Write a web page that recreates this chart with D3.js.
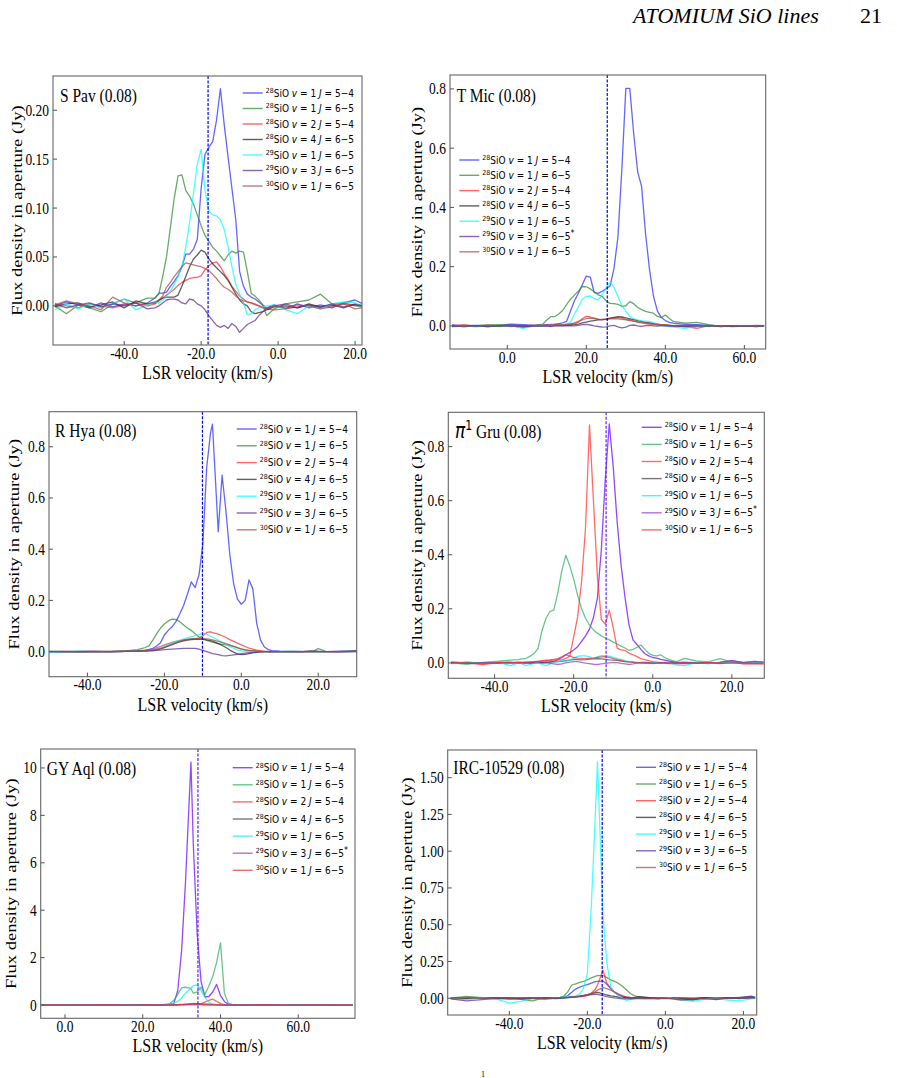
<!DOCTYPE html>
<html>
<head>
<meta charset="utf-8">
<script src="https://cdn.jsdelivr.net/npm/d3@7"></script>
<style>
body { margin: 0; background: #fff; }
</style>
</head>
<body>
<div class="figureContainer"></div>
<script>
// ---- data ----
var stars     = ["S Pav", "T Mic", "R Hya", "Gru", "GY Aql", "IRC-10529"];
var apertures = ["0.08", "0.08", "0.08", "0.08", "0.08", "0.08"];
var vLsr      = [-18.2, 25.3, -10.1, -11.8, 34.2, -16.2];

var isotopes  = ["28", "28", "28", "28", "29", "29", "30"];
var vibLevels = ["1", "1", "2", "4", "1", "3", "1"];
var rotTrans  = ["5\u22124", "6\u22125", "5\u22124", "6\u22125", "6\u22125", "6\u22125", "6\u22125"];
var starred   = [false, true, false, true, true, false]; // panels with "*" on 29SiO v=3

var xTicks = [[-40, -20, 0, 20], [0, 20, 40, 60], [-40, -20, 0, 20], [-40, -20, 0, 20], [0, 20, 40, 60], [-40, -20, 0, 20]];
var yTicks = [[0, 0.05, 0.10, 0.15, 0.20], [0, 0.2, 0.4, 0.6, 0.8], [0, 0.2, 0.4, 0.6, 0.8], [0, 0.2, 0.4, 0.6, 0.8], [0, 2, 4, 6, 8, 10], [0, 0.25, 0.5, 0.75, 1.0, 1.25, 1.5]];
var yFormats = [".2f", ".1f", ".1f", ".1f", "d", ".2f"];

// S Pav
var sPavVel = [-58,-55,-52,-49,-46,-43,-40,-37,-34, -32,-31,-30,-29,-28,-27,-26,-25,-24,-23,-22,-21,-20,-19,-18,-17,-16,-15,-14,-13,-12,-11,-10,-9,-8,-7,-6,-5,-4,-3, -1,2,5,8,11,14,17,20,22];
var sPav28v1J54 = [0.000,0.004,0.001,-0.002,0.003,-0.001,0.002,0.000,0.003, 0.008,0.013,0.013,0.014,0.020,0.025,0.031,0.040,0.053,0.053,0.058,0.068,0.120,0.155,0.162,0.168,0.190,0.222,0.185,0.152,0.120,0.088,0.035,0.020,0.012,0.009,0.007,0.004,0.001,-0.002, 0.001,-0.003,0.002,-0.002,0.001,-0.002,0.003,0.006,0.002];
var sPav28v1J65 = [0.000,-0.008,0.001,-0.002,-0.006,0.002,0.007,0.003,0.008, 0.008,0.012,0.030,0.050,0.080,0.110,0.133,0.134,0.118,0.112,0.104,0.093,0.082,0.072,0.066,0.060,0.056,0.051,0.046,0.052,0.056,0.054,0.056,0.055,0.035,0.013,0.010,0.006,0.001,-0.010, -0.003,0.002,0.004,0.006,0.012,0.002,0.003,0.000,-0.001];
var sPav28v2J54 = [0.002,0.000,-0.002,0.002,0.000,-0.002,0.001,0.003,0.000, 0.002,0.005,0.008,0.011,0.014,0.017,0.021,0.024,0.026,0.028,0.029,0.029,0.031,0.037,0.041,0.044,0.045,0.040,0.033,0.027,0.020,0.015,0.010,0.007,0.004,0.003,0.002,0.000,-0.001,-0.003, -0.004,-0.003,-0.001,0.001,-0.002,0.000,0.002,0.001,0.000];
var sPav28v4J65 = [-0.001,0.002,0.003,-0.001,0.001,0.004,-0.002,0.005,0.002, 0.003,0.006,0.008,0.009,0.009,0.009,0.011,0.020,0.030,0.040,0.048,0.052,0.057,0.055,0.048,0.043,0.039,0.035,0.031,0.026,0.019,0.012,0.006,0.002,0.000,-0.006,-0.008,-0.007,-0.006,-0.004, -0.001,0.000,-0.002,0.002,-0.001,0.001,-0.002,0.002,0.000];
var sPav29v1J65 = [-0.004,0.002,-0.003,0.002,-0.002,0.002,0.007,-0.004,0.001, 0.004,0.003,0.006,0.010,0.015,0.022,0.030,0.040,0.060,0.085,0.115,0.145,0.160,0.118,0.097,0.093,0.092,0.088,0.078,0.060,0.040,0.022,0.012,0.003,-0.009,-0.008,-0.004,-0.002,-0.001,0.000, 0.001,-0.004,-0.008,0.000,-0.003,0.002,0.004,0.003,-0.001];
var sPav29v3J65 = [0.002,-0.002,0.001,0.003,-0.001,0.002,0.000,0.003,-0.003, -0.002,0.000,0.003,0.006,0.007,0.007,0.006,0.003,0.002,0.007,0.006,0.002,0.000,-0.004,-0.010,-0.015,-0.020,-0.022,-0.020,-0.023,-0.018,-0.021,-0.027,-0.023,-0.019,-0.017,-0.015,-0.010,-0.006,-0.003, 0.000,0.002,-0.002,0.001,-0.001,0.002,-0.001,0.001,0.000];
var sPav30v1J65 = [0.001,0.005,0.002,0.000,-0.004,0.009,0.003,0.000,0.002, 0.004,0.006,0.010,0.019,0.024,0.030,0.035,0.040,0.044,0.043,0.042,0.041,0.040,0.038,0.036,0.032,0.028,0.023,0.019,0.017,0.014,0.010,0.007,0.005,0.004,0.003,0.001,0.000,-0.002,-0.003, 0.000,-0.002,0.001,0.000,-0.003,-0.001,0.002,-0.003,-0.002];

// T Mic
var tMicVel = [-14,-11,-8,-5,-2,1,4,7, 9,10,11,12,13,14,15,16,17,18,19,20,21,22,23,24,25,26,27,28,29,30,31,32,33,34,35,36,37,38,39,40,41,42, 45,48,51,54,57,60,63,65];
var tMic28v1J54 = [0.003,0.000,0.002,-0.001,0.001,0.006,0.004,0.002, 0.003,0.004,0.005,0.006,0.008,0.010,0.015,0.050,0.085,0.110,0.140,0.168,0.165,0.112,0.110,0.117,0.125,0.135,0.193,0.300,0.530,0.802,0.802,0.648,0.520,0.470,0.310,0.190,0.100,0.050,0.028,0.018,0.012,0.009, 0.005,0.004,0.002,0.000,0.001,-0.001,0.002,0.001];
var tMic28v1J65 = [0.002,-0.003,0.001,0.003,0.004,0.000,-0.006,0.002, 0.006,0.020,0.031,0.031,0.040,0.052,0.072,0.090,0.104,0.118,0.133,0.132,0.125,0.115,0.105,0.100,0.085,0.076,0.075,0.073,0.066,0.068,0.082,0.075,0.062,0.055,0.049,0.046,0.043,0.032,0.028,0.037,0.025,0.015, 0.009,0.012,0.004,-0.002,0.001,0.000,-0.002,0.001];
var tMic28v2J54 = [0.001,0.003,-0.001,0.002,0.000,-0.002,0.001,0.002, 0.001,0.003,0.002,0.004,0.003,0.004,0.005,0.006,0.008,0.012,0.025,0.032,0.030,0.026,0.022,0.020,0.022,0.025,0.027,0.028,0.026,0.022,0.020,0.016,0.013,0.010,0.008,0.006,0.004,0.003,0.002,0.001,0.002,0.000, -0.002,-0.008,0.001,-0.002,0.001,0.000,-0.002,0.000];
var tMic28v4J65 = [0.000,0.002,0.001,-0.002,0.001,0.002,0.000,0.001, 0.000,0.001,0.000,0.002,0.001,0.002,0.002,0.003,0.004,0.006,0.010,0.013,0.016,0.018,0.020,0.021,0.023,0.026,0.029,0.031,0.030,0.027,0.024,0.021,0.018,0.015,0.012,0.010,0.008,0.006,0.004,0.003,0.002,0.001, 0.000,0.001,-0.001,0.000,0.001,-0.001,0.000,0.001];
var tMic29v1J65 = [-0.002,0.001,-0.003,0.000,-0.002,0.000,-0.008,0.000, 0.002,0.000,0.003,0.001,0.002,0.004,0.006,0.012,0.040,0.065,0.090,0.100,0.101,0.092,0.088,0.105,0.128,0.148,0.130,0.100,0.068,0.050,0.032,0.025,0.020,0.017,0.016,0.015,0.011,0.006,0.003,0.000,-0.002,-0.004, -0.008,0.000,-0.002,0.001,-0.001,0.000,0.001,-0.001];
var tMic29v3J65 = [-0.002,-0.001,0.000,-0.002,-0.001,0.000,-0.002,-0.001, -0.001,0.000,-0.002,0.000,0.001,-0.001,0.000,0.001,0.000,0.002,0.004,0.005,0.003,0.000,-0.002,-0.004,-0.003,0.000,0.002,-0.003,-0.007,-0.004,0.002,0.003,0.000,-0.002,0.001,0.002,0.000,-0.001,0.001,0.000,-0.001,0.000, -0.002,0.000,-0.001,0.000,-0.002,-0.001,0.000,-0.001];
var tMic30v1J65 = [0.002,-0.001,0.001,0.002,-0.001,0.001,0.000,0.002, 0.002,0.001,0.003,0.002,0.004,0.003,0.005,0.007,0.010,0.015,0.020,0.025,0.026,0.025,0.023,0.022,0.023,0.024,0.025,0.024,0.022,0.020,0.018,0.016,0.014,0.012,0.010,0.009,0.007,0.005,0.004,0.003,0.002,0.001, 0.000,0.002,0.000,-0.001,0.001,0.000,-0.001,0.000];

// R Hya
var rHyaVel = [-50,-46,-42,-38,-34,-30,-27, -25,-24,-23,-22,-21,-20,-19,-18,-17,-16,-15,-14,-13,-12,-11,-10,-9,-8,-7.5,-6,-5,-4,-3,-2,-1,0,1,2,3,4,5,6,7,8, 10,13,16,19,20,22,25,28,30];
var rHya28v1J54 = [0.000,0.001,0.000,0.001,-0.001,0.001,0.003, 0.006,0.009,0.013,0.022,0.035,0.065,0.083,0.097,0.117,0.147,0.180,0.225,0.272,0.250,0.300,0.420,0.720,0.855,0.888,0.468,0.689,0.550,0.380,0.265,0.205,0.185,0.200,0.280,0.245,0.110,0.045,0.018,0.008,0.004, 0.002,0.001,0.000,0.002,0.001,0.000,0.001,0.002,0.003];
var rHya28v1J65 = [0.001,0.000,0.001,0.000,0.001,0.003,0.008, 0.016,0.022,0.045,0.070,0.092,0.108,0.120,0.127,0.126,0.117,0.104,0.092,0.082,0.070,0.057,0.050,0.044,0.039,0.037,0.031,0.028,0.026,0.023,0.020,0.016,0.010,0.006,0.004,0.004,0.003,0.001,0.000,0.000,-0.001, 0.000,0.001,0.000,0.004,0.012,0.001,0.000,0.001,0.001];
var rHya28v2J54 = [0.000,0.001,-0.001,0.000,0.001,0.002,0.003, 0.004,0.006,0.010,0.015,0.020,0.026,0.031,0.036,0.040,0.043,0.046,0.048,0.050,0.051,0.053,0.062,0.075,0.077,0.074,0.068,0.062,0.055,0.047,0.040,0.033,0.026,0.020,0.014,0.010,0.006,0.004,0.002,0.001,0.000, 0.000,-0.001,0.000,0.001,0.000,0.000,-0.001,0.000,0.001];
var rHya28v4J65 = [0.000,0.000,0.001,0.000,0.000,0.001,0.001, 0.002,0.003,0.004,0.007,0.011,0.016,0.021,0.027,0.033,0.038,0.042,0.045,0.047,0.048,0.048,0.048,0.046,0.043,0.041,0.031,0.024,0.016,0.006,-0.002,-0.009,-0.012,-0.011,-0.008,-0.005,-0.003,-0.001,0.000,0.000,0.000, 0.000,0.000,0.000,0.001,0.000,0.000,0.000,0.001,0.002];
var rHya29v1J65 = [-0.004,0.000,0.001,0.000,0.000,0.001,0.002, 0.003,0.004,0.007,0.011,0.017,0.022,0.027,0.034,0.040,0.045,0.050,0.055,0.058,0.062,0.066,0.071,0.068,0.060,0.056,0.045,0.036,0.028,0.020,0.013,0.007,0.003,0.001,0.000,-0.001,0.000,0.000,0.001,0.000,0.000, 0.000,0.001,0.000,0.000,0.001,0.000,0.000,0.001,0.000];
var rHya29v3J65 = [0.000,0.000,0.000,0.001,0.000,0.001,0.002, 0.003,0.004,0.004,0.005,0.006,0.008,0.009,0.010,0.011,0.012,0.013,0.013,0.013,0.013,0.010,0.005,0.000,-0.005,-0.008,-0.012,-0.016,-0.017,-0.015,-0.013,-0.011,-0.008,-0.006,-0.004,-0.003,-0.002,-0.001,0.000,0.000,0.000, 0.000,0.000,0.000,0.000,0.001,0.000,0.000,0.001,0.000];
var rHya30v1J65 = [0.001,0.000,0.000,0.001,0.000,0.001,0.002, 0.004,0.005,0.007,0.010,0.013,0.018,0.023,0.029,0.035,0.041,0.045,0.048,0.050,0.051,0.052,0.052,0.050,0.048,0.046,0.040,0.036,0.031,0.026,0.020,0.015,0.011,0.008,0.005,0.003,0.001,0.000,0.000,-0.001,0.000, 0.000,0.000,0.001,0.000,0.000,0.000,0.001,0.000,0.001];

// pi1 Gru
var piGruVel = [-51,-47,-43,-39,-36,-34, -33,-32,-31,-30,-29,-28,-27,-26,-25,-24,-23,-22,-21,-20,-19,-18,-17,-16,-15,-14,-13,-12,-11,-10,-9,-8,-7,-6,-5,-4,-3,-2,-1,0,1,2,3,4,5,6, 8,11,14,17,20,23,26,28];
var piGru28v1J54 = [0.000,0.002,-0.001,0.001,0.000,0.002, 0.001,0.000,0.002,0.001,0.003,0.002,0.003,0.004,0.006,0.012, 0.020,0.030,0.038,0.048,0.060,0.080,0.100,0.125,0.168,0.240, 0.420,0.680,0.884,0.726,0.520,0.360,0.240,0.140,0.085,0.068, 0.050,0.034,0.026,0.020,0.018,0.013,0.010,0.007,0.005,0.003, 0.002,0.001,0.000,0.002,0.008,0.001,0.004,0.002];
var piGru28v1J65 = [0.000,-0.005,0.002,0.006,0.010,0.012, 0.015,0.017,0.025,0.035,0.054,0.120,0.165,0.190,0.196,0.260, 0.340,0.398,0.360,0.310,0.250,0.200,0.165,0.140,0.122,0.110, 0.100,0.092,0.085,0.077,0.070,0.062,0.055,0.046,0.050,0.058, 0.066,0.050,0.035,0.028,0.026,0.030,0.020,0.013,0.008,0.005, 0.017,0.007,0.004,0.016,0.003,0.002,0.005,0.003];
var piGru28v2J54 = [0.002,0.000,-0.006,0.001,0.003,0.000, 0.002,0.001,0.003,0.004,0.005,0.006,0.008,0.009,0.010,0.011, 0.012,0.016,0.025,0.095,0.170,0.300,0.500,0.880,0.600,0.320, 0.160,0.144,0.195,0.130,0.054,0.048,0.046,0.036,0.030,0.023, 0.016,0.012,0.008,0.005,0.003,0.001,0.000,-0.003,-0.002,-0.004, -0.003,-0.002,0.000,-0.003,0.002,-0.004,-0.003,-0.004];
var piGru28v4J65 = [0.000,0.001,0.000,-0.001,0.001,0.000, 0.001,0.000,-0.001,0.001,0.002,0.001,0.002,0.003,0.004,0.005, 0.006,0.008,0.010,0.012,0.012,0.011,0.012,0.014,0.015,0.016, 0.015,0.013,0.011,0.010,0.009,0.007,0.005,0.004,0.002,0.001, 0.000,-0.001,0.000,0.001,0.000,-0.001,0.001,0.000,0.001,0.000, 0.001,0.000,0.001,0.000,0.002,0.000,0.001,0.000];
var piGru29v1J65 = [-0.004,0.004,-0.002,0.002,-0.010,0.000, -0.004,-0.010,-0.006,-0.002,0.002,-0.006,-0.010,-0.004,0.002,0.005, 0.008,0.006,0.011,0.018,0.024,0.026,0.026,0.022,0.017,0.022, 0.027,0.026,0.025,0.020,0.016,0.012,0.008,0.005,0.004,0.000, -0.002,0.001,-0.003,0.000,0.002,-0.002,0.003,0.000,-0.004,-0.008, -0.010,0.002,-0.004,0.003,0.001,-0.002,0.002,0.000];
var piGru29v3J65 = [0.000,-0.002,0.001,0.000,0.002,-0.001, 0.000,0.001,-0.002,0.000,0.001,-0.001,0.000,-0.002,-0.004,-0.006, -0.004,0.000,0.003,0.005,0.005,0.002,-0.001,-0.003,-0.005,-0.006, -0.004,-0.002,0.000,0.002,0.001,-0.002,-0.004,-0.006,-0.004,-0.001, 0.002,0.003,0.001,-0.002,-0.001,0.002,0.000,-0.002,0.001,0.000, 0.002,-0.001,0.000,0.002,0.008,0.001,0.006,0.002];
var piGru30v1J65 = [0.004,0.000,-0.004,0.002,0.000,0.003, 0.002,0.004,0.003,0.005,0.006,0.008,0.010,0.011,0.013,0.016, 0.022,0.030,0.026,0.020,0.018,0.017,0.016,0.017,0.018,0.020, 0.022,0.023,0.020,0.016,0.012,0.009,0.006,0.004,0.003,0.002, 0.000,-0.002,-0.001,-0.003,0.000,-0.002,0.001,-0.001,0.000,-0.002, 0.000,-0.002,0.001,-0.001,0.000,-0.003,-0.002,-0.004];

// GY Aql
var gyAqlVel = [-6,-2,2,6,10,14,18,21,24, 25,26,27,28,29,30,31,32.4,33,34,35,36,37,38,39,40,41,42,43, 45,48,52,56,60,64,68,72,74];
var gyAql28v1J54 = [0.00,0.01,0.00,0.01,0.00,0.01,0.00,0.02,0.01, 0.02,0.03,0.04,0.07,0.60,2.30,5.20,10.25,6.80,3.00,0.99,0.35,0.36,0.55,0.87,0.40,0.15,0.03,0.02, 0.01,0.00,0.01,0.00,0.01,0.00,0.01,0.00,0.01];
var gyAql28v1J65 = [0.00,0.00,0.01,0.00,0.00,0.01,0.00,0.00,0.01, 0.01,0.02,0.06,0.20,0.45,0.72,0.75,0.70,0.50,0.55,0.75,0.45,0.80,1.20,1.80,2.62,0.50,0.08,0.02, 0.01,0.00,0.01,0.00,0.00,0.01,0.00,0.00,0.01];
var gyAql28v2J54 = [0.00,0.01,0.00,0.00,0.01,0.00,0.00,0.01,0.00, 0.00,0.01,0.01,0.01,0.01,0.02,0.02,0.05,0.07,0.06,0.06,0.12,0.20,0.25,0.16,0.06,0.02,0.01,0.00, 0.00,0.01,0.00,0.00,0.01,0.00,0.00,0.00,0.01];
var gyAql28v4J65 = [0.00,0.00,0.01,0.00,0.00,0.00,0.01,0.00,0.00, 0.00,0.01,0.01,0.01,0.02,0.02,0.03,0.04,0.04,0.05,0.04,0.04,0.03,0.03,0.02,0.01,0.01,0.00,0.00, 0.00,0.00,0.01,0.00,0.00,0.00,0.01,0.00,0.00];
var gyAql29v1J65 = [0.00,0.00,0.00,0.01,0.00,0.00,0.01,0.00,0.01, 0.01,0.02,0.04,0.08,0.15,0.30,0.50,0.72,0.82,0.85,0.62,0.32,0.12,0.04,0.02,0.01,0.00,0.00,0.00, 0.00,0.01,0.00,0.00,0.01,0.00,0.00,0.01,0.00];
var gyAql29v3J65 = [0.00,0.00,0.00,0.01,0.00,0.00,0.00,0.01,0.00, 0.00,0.00,0.01,0.00,0.01,0.01,0.01,0.02,0.01,0.01,0.01,0.00,0.01,0.00,0.00,0.01,0.00,0.00,0.00, 0.00,0.01,0.00,0.00,0.00,0.01,0.00,0.00,0.00];
var gyAql30v1J65 = [0.01,0.00,0.00,0.00,0.01,0.00,0.00,0.00,0.01, 0.00,0.01,0.01,0.01,0.02,0.03,0.04,0.05,0.05,0.04,0.04,0.03,0.03,0.02,0.01,0.01,0.00,0.00,0.00, 0.00,0.00,0.01,0.00,0.00,0.00,0.00,0.01,0.00];

// IRC-10529
var ircVel = [-55,-51,-47,-43,-40,-37,-34,-31,-28, -27,-26,-25,-24,-23,-22,-21,-20,-19,-18,-17.4,-16,-15,-14,-13,-12,-11,-10,-9,-8,-7, -5,-2,1,4,7,10,13,16,19,22,23];
var irc28v1J54 = [-0.002,0.002,0.000,0.002,-0.003,0.002,0.000,-0.002,0.003, 0.004,0.008,0.018,0.040,0.062,0.075,0.085,0.092,0.103,0.113,0.115,0.118,0.095,0.065,0.040,0.025,0.012,0.006,0.003,0.001,0.000, 0.002,-0.002,0.003,0.000,-0.003,0.002,0.000,0.003,-0.002,0.004,0.002];
var irc28v1J65 = [0.000,0.012,0.004,-0.003,0.000,-0.008,-0.018,0.004,0.000, 0.006,0.015,0.045,0.090,0.098,0.108,0.115,0.125,0.138,0.148,0.154,0.155,0.140,0.125,0.115,0.100,0.082,0.058,0.032,0.018,0.010, 0.005,-0.002,0.003,-0.005,-0.015,0.004,-0.006,0.002,0.006,0.010,0.004];
var irc28v2J54 = [0.002,0.000,0.003,0.001,0.004,0.000,0.003,0.001,0.002, 0.003,0.004,0.005,0.006,0.008,0.010,0.013,0.020,0.035,0.060,0.090,0.190,0.100,0.070,0.040,0.022,0.012,0.006,0.004,0.003,0.002, 0.001,0.000,0.002,0.001,0.000,0.003,0.001,0.004,0.002,0.006,0.003];
var irc28v4J65 = [0.000,-0.003,0.002,0.000,0.001,-0.002,0.000,0.002,-0.003, 0.000,0.003,0.006,0.010,0.012,0.015,0.019,0.024,0.030,0.038,0.040,0.030,0.022,0.016,0.012,0.008,0.005,0.003,0.002,0.004,0.010, 0.006,0.000,0.003,-0.002,-0.006,0.004,-0.002,0.001,0.003,0.002,0.004];
var irc29v1J65 = [0.000,-0.010,0.005,-0.008,-0.034,-0.022,0.000,-0.010,0.003, 0.005,0.008,0.010,0.012,0.014,0.030,0.065,0.170,0.620,1.220,1.609,0.560,0.240,0.075,0.040,0.015,0.002,-0.015,-0.010,-0.005,0.000, -0.004,-0.002,0.004,-0.010,-0.022,-0.008,0.000,-0.012,-0.018,-0.004,0.000];
var irc29v3J65 = [-0.005,-0.018,-0.010,0.000,-0.006,-0.002,0.000,-0.004,0.000, 0.002,0.003,0.005,0.008,0.010,0.012,0.016,0.020,0.024,0.027,0.026,0.018,0.011,0.006,0.002,0.000,-0.004,-0.005,-0.004,-0.002,0.000, -0.003,0.000,-0.002,-0.012,-0.008,-0.002,-0.010,0.002,0.004,0.015,0.008];
var irc30v1J65 = [0.001,0.003,0.000,0.002,0.000,0.002,0.001,0.000,0.002, 0.003,0.004,0.006,0.008,0.010,0.014,0.018,0.023,0.032,0.045,0.055,0.072,0.065,0.055,0.042,0.028,0.018,0.010,0.006,0.003,0.002, 0.000,0.001,-0.001,0.002,0.000,0.001,0.003,0.000,0.004,0.002,0.001];

var panelVel = [sPavVel, tMicVel, rHyaVel, piGruVel, gyAqlVel, ircVel];
var panelFlux = [
    [sPav28v1J54, sPav28v1J65, sPav28v2J54, sPav28v4J65, sPav29v1J65, sPav29v3J65, sPav30v1J65],
    [tMic28v1J54, tMic28v1J65, tMic28v2J54, tMic28v4J65, tMic29v1J65, tMic29v3J65, tMic30v1J65],
    [rHya28v1J54, rHya28v1J65, rHya28v2J54, rHya28v4J65, rHya29v1J65, rHya29v3J65, rHya30v1J65],
    [piGru28v1J54, piGru28v1J65, piGru28v2J54, piGru28v4J65, piGru29v1J65, piGru29v3J65, piGru30v1J65],
    [gyAql28v1J54, gyAql28v1J65, gyAql28v2J54, gyAql28v4J65, gyAql29v1J65, gyAql29v3J65, gyAql30v1J65],
    [irc28v1J54, irc28v1J65, irc28v2J54, irc28v4J65, irc29v1J65, irc29v3J65, irc30v1J65]
];

// ---- layout (pixels) ----
var frames = [
    {l: 53,    t: 76,    r: 362,   b: 345,    xd: [-58.5, 21.8], yd: [-0.040, 0.235]},
    {l: 450,   t: 75,    r: 765.7, b: 349,    xd: [-14.5, 65.4], yd: [-0.078, 0.847]},
    {l: 49,    t: 411.7, r: 356.7, b: 676.7,  xd: [-50, 30],     yd: [-0.098, 0.937]},
    {l: 448.3, t: 412.3, r: 764.3, b: 678.3,  xd: [-51.7, 28.2], yd: [-0.057, 0.927]},
    {l: 40.7,  t: 749,   r: 355,   b: 1018.3, xd: [-6.25, 74.6], yd: [-0.56, 10.8]},
    {l: 447.7, t: 750,   r: 756.7, b: 1015,   xd: [-55.8, 23.4], yd: [-0.114, 1.688]}
];
var titlePos  = [[60, 102], [456.7, 102], [55, 437], [455, 438], [46.7, 775], [453.3, 774]];
var legendPos = [[242.7, 93, 15.5], [459.3, 160, 15.3], [236.7, 429, 16.8], [641.7, 427.3, 17.1], [232.7, 767.7, 17.1], [636, 767.3, 16.7]];
var yLabelX   = [17, 417, 14, 417, 11, 407];
var paletteA  = ["#2a2aff", "#2e8b2e", "#ff2a2a", "#222222", "#00ffff", "#5b2a9a", "#a84848"];
var paletteB  = ["#6a00ff", "#2eb060", "#ff3030", "#444444", "#00f0ff", "#9040c0", "#ee3333"];
var panelPalette = [paletteA, paletteA, paletteA, paletteB, paletteB, paletteA];
var dashColor = ["#0000ee", "#0000ee", "#0000ee", "#5a1fff", "#5a1fff", "#0000ee"];

var SY = 1.2;           // the figure is stretched vertically a little
var serif = "'Liberation Serif', 'Times New Roman', serif";
var sans  = "'DejaVu Sans', sans-serif";

function spectraFigure()
{
    var svg = d3.select(".figureContainer")
        .append("svg")
        .attr("width", 897)
        .attr("height", 1078)
        .style("background", "#fff");

    // running head
    svg.append("text")
        .attr("x", 633).attr("y", 23)
        .attr("font-family", serif).attr("font-style", "italic").attr("font-size", 22)
        .text("ATOMIUM SiO lines");
    svg.append("text")
        .attr("x", 860).attr("y", 23)
        .attr("font-family", serif).attr("font-size", 22)
        .text("21");
    svg.append("text")
        .attr("x", 481).attr("y", 1077)
        .attr("font-family", serif).attr("font-size", 8)
        .text("1");

    frames.forEach(function (f, p) {
        var x = d3.scaleLinear().domain(f.xd).range([f.l, f.r]);
        var y = d3.scaleLinear().domain(f.yd).range([f.b, f.t]);
        var colors = panelPalette[p];
        var g = svg.append("g").attr("class", "panel");

        g.append("clipPath").attr("id", "clip" + p)
            .append("rect")
            .attr("x", f.l).attr("y", f.t)
            .attr("width", f.r - f.l).attr("height", f.b - f.t);

        // spectra, drawn in legend order
        var line = d3.line()
            .x(function (d) { return x(d[0]); })
            .y(function (d) { return y(d[1]); });
        var plot = g.append("g").attr("clip-path", "url(#clip" + p + ")");
        panelFlux[p].forEach(function (flux, s) {
            plot.append("path")
                .datum(d3.zip(panelVel[p], flux))
                .attr("d", line)
                .attr("fill", "none")
                .attr("stroke", colors[s])
                .attr("stroke-opacity", 0.72)
                .attr("stroke-width", 1.3)
                .attr("stroke-linejoin", "round");
        });

        // systemic velocity
        plot.append("line")
            .attr("x1", x(vLsr[p])).attr("x2", x(vLsr[p]))
            .attr("y1", f.t).attr("y2", f.b)
            .attr("stroke", dashColor[p])
            .attr("stroke-width", 1.2)
            .attr("stroke-dasharray", "3,1.5");

        // frame
        g.append("rect")
            .attr("x", f.l).attr("y", f.t)
            .attr("width", f.r - f.l).attr("height", f.b - f.t)
            .attr("fill", "none").attr("stroke", "#666").attr("stroke-width", 1.1);

        // ticks (inward) and labels
        var fx = function (d) { return d3.format(".1f")(d).replace("\u2212", "-"); };
        var fy = function (d) { return d3.format(yFormats[p])(d).replace("\u2212", "-"); };
        xTicks[p].forEach(function (t) {
            g.append("line")
                .attr("x1", x(t)).attr("x2", x(t))
                .attr("y1", f.b).attr("y2", f.b - 4)
                .attr("stroke", "#555");
            g.append("text")
                .attr("transform", "translate(" + x(t) + "," + (f.b + 13.5) + ") scale(1," + SY + ")")
                .attr("text-anchor", "middle")
                .attr("font-family", serif).attr("font-size", 13.5)
                .text(fx(t));
        });
        yTicks[p].forEach(function (t) {
            g.append("line")
                .attr("x1", f.l).attr("x2", f.l + 4)
                .attr("y1", y(t)).attr("y2", y(t))
                .attr("stroke", "#555");
            g.append("text")
                .attr("transform", "translate(" + (f.l - 4) + "," + (y(t) + 5.5) + ") scale(1," + SY + ")")
                .attr("text-anchor", "end")
                .attr("font-family", serif).attr("font-size", 13.5)
                .text(fy(t));
        });

        // axis titles
        g.append("text")
            .attr("transform", "translate(" + ((f.l + f.r) / 2) + "," + (f.b + 34) + ") scale(1,1.15)")
            .attr("text-anchor", "middle")
            .attr("font-family", serif).attr("font-size", 16)
            .text("LSR velocity (km/s)");
        g.append("text")
            .attr("transform", "translate(" + yLabelX[p] + "," + ((f.t + f.b) / 2) + ") rotate(-90) scale(" + SY + ",1)")
            .attr("text-anchor", "middle")
            .attr("dy", "0.35em")
            .attr("font-family", serif).attr("font-size", 15.5)
            .text("Flux density in aperture (Jy)");

        // star name
        var title = g.append("text")
            .attr("transform", "translate(" + titlePos[p][0] + "," + titlePos[p][1] + ") scale(1," + SY + ")")
            .attr("font-family", serif).attr("font-size", 15.5);
        if (p === 3) {
            title.append("tspan").attr("font-family", sans).attr("font-style", "italic").attr("font-size", 17).text("\u03c0");
            title.append("tspan").attr("font-family", sans).attr("font-size", 11).attr("dy", -7).text("1");
            title.append("tspan").attr("dy", 7).text(" " + stars[p] + " (" + apertures[p] + ")");
        } else {
            title.text(stars[p] + " (" + apertures[p] + ")");
        }

        // legend
        var lx = legendPos[p][0], ly = legendPos[p][1], dy = legendPos[p][2];
        isotopes.forEach(function (iso, s) {
            var yy = ly + s * dy;
            g.append("line")
                .attr("x1", lx).attr("x2", lx + 20)
                .attr("y1", yy).attr("y2", yy)
                .attr("stroke", colors[s]).attr("stroke-opacity", 0.72).attr("stroke-width", 1.4);
            var t = g.append("text")
                .attr("transform", "translate(" + (lx + 23) + "," + (yy + 3.5) + ") scale(1,1.12)")
                .attr("font-family", sans).attr("font-size", 9);
            t.append("tspan").attr("font-size", 6.3).attr("dy", -3.3).text(iso);
            t.append("tspan").attr("dy", 3.3).text("SiO ");
            t.append("tspan").attr("font-style", "italic").text("v");
            t.append("tspan").text(" = " + vibLevels[s] + " ");
            t.append("tspan").attr("font-style", "italic").text("J");
            t.append("tspan").text(" = " + rotTrans[s]);
            if (s === 5 && starred[p]) {
                t.append("tspan").attr("font-size", 8).attr("dy", -3.5).text("*");
            }
        });
    });
}

spectraFigure();
</script>
</body>
</html>
